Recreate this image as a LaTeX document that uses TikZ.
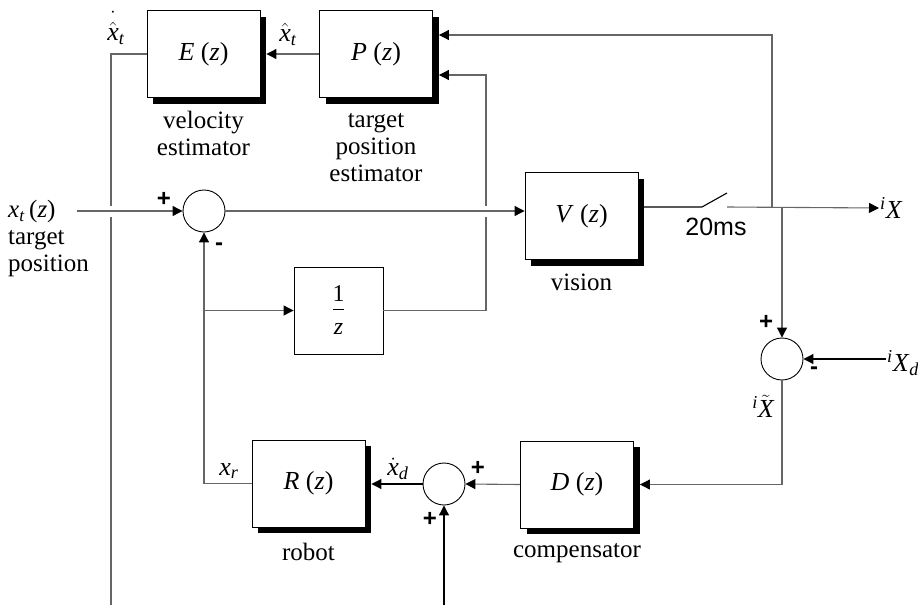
\documentclass[tikz,border=0pt]{standalone}
\usepackage{fontspec}
\setmainfont{Liberation Serif}
\newfontfamily\arialfont{Liberation Sans}
\usetikzlibrary{positioning,arrows.meta,shadows,calc}
\newcommand{\tfn}[1]{\textit{#1}\ (\textit{z})}
\newcommand{\lowsub}[1]{\textsubscript{\textit{#1}}}
\newcommand{\hisup}[1]{\textsuperscript{\textit{#1}}}
\newcommand{\iv}[1]{\mbox{\itshape #1}}
\tikzset{
  blk/.style  ={draw, line width=0.9pt, fill=white, minimum width=113pt,
                minimum height=87pt, inner sep=0pt,
                font=\fontsize{26}{28}\selectfont,
                drop shadow={shadow xshift=6pt, shadow yshift=-6pt,
                             fill=black, opacity=1}},
  blkn/.style ={draw, line width=0.9pt, fill=white, minimum width=89pt,
                minimum height=87pt, inner sep=0pt, align=center,
                font=\fontsize{24}{26}\selectfont},
  sum/.style  ={draw, circle, line width=0.9pt, minimum size=42pt,
                inner sep=0pt},
  ln/.style   ={draw=black!60, line width=1.1pt},
  ar/.style   ={ln, -{Triangle[length=10pt, width=10pt, color=black]}},
  hop/.style  ={preaction={draw=white, line width=11pt, -,
                           shorten <=6pt, shorten >=6pt}},
  capt/.style ={font=\fontsize{25}{27}\selectfont, align=center,
                inner sep=2pt},
  lbl/.style  ={font=\fontsize{26}{28}\selectfont, inner sep=1pt},
  sgn/.style  ={font=\arialfont\bfseries\fontsize{24}{24}\selectfont,
                inner sep=0pt}
}
\begin{document}
\begin{tikzpicture}[x=1pt, y=-1pt]
\useasboundingbox (0,0) rectangle (918,605);
% blocks
\node[blk]  (E)    at (203.5,54)   {\tfn{E}};
\node[blk]  (P)    at (376,54)     {\tfn{P}};
\node[blk]  (V)    at (581.5,216)  {\tfn{V}};
\node[blkn] (invz) at (338.5,310.5)
  {1\\[-18pt]\rule{11pt}{0.8pt}\\[-1pt]\textit{z}};
\node[blk]  (R)    at (308.5,483.5) {\tfn{R}};
\node[blk]  (D)    at (577,484.5)  {\tfn{D}};
\node[sum]  (s1)   at (204,211)    {};
\node[sum]  (s2)   at (444,484)    {};
\node[sum]  (s3)   at (782,359)    {};

\node[capt, below=11pt of E]   (capE) {velocity\\estimator};
\node[capt, below=13.5pt of P] (capP) {target\\position\\estimator};
\node[capt, below=12pt of V]   (capV) {vision};
\node[capt, below=13pt of R]   (capR) {robot};
\node[capt, below=12.5pt of D] (capD) {compensator};
\node[capt, align=left, anchor=north west] (xtlbl) at (6,198)
  {\textit{x}\lowsub{t}\,(\textit{z})\\target\\position};

% signal labels
\node[lbl] (xhat)    at (288,34)  {$\hat{\iv{x}}$\lowsub{t}};
\node[lbl] (xhatdot) at (116,28)
  {$\dot{\mbox{\raisebox{0pt}[24pt]{$\hat{\iv{x}}$}}}$\lowsub{t}};
\node[lbl] (xr)      at (229,471) {\textit{x}\lowsub{r}};
\node[lbl] (xddot)   at (398,469) {$\dot{\iv{x}}$\lowsub{d}};
\node[lbl, anchor=west] (iX)  at (879,208) {\hisup{i}\textit{X}};
\node[lbl, anchor=west] (iXd) at (886,363) {\hisup{i}\textit{X}\lowsub{d}};
\node[lbl] (iXt)     at (763,406) {\hisup{i}$\tilde{\iv{X}}$};
\node[font=\arialfont\fontsize{25}{25}\selectfont, inner sep=0pt]
  (ts) at (716,227) {20ms};

\node[sgn] (p1)  at (164,199) {+};
\node[sgn] (m1)  at (219,247) {-};
\node[sgn] (p3)  at (766,322) {+};
\node[sgn] (m3)  at (814,371) {-};
\node[sgn] (p2a) at (478,468) {+};
\node[sgn] (p2b) at (430,519) {+};

% free ends and branch points
\coordinate (xin)  at (77,211);
\coordinate (ebot) at (111,605);
\coordinate (dbot) at (444,605);
\coordinate (pin2) at (486,75);
\coordinate (sw1)  at (702,207);
\coordinate (sw2)  at (727,207);
\coordinate (tap1) at (772,207);
\coordinate (tap2) at (782,207);
\coordinate (top)  at (772,35);

% connectors
\draw[ln] (E.west) -| (ebot);
\draw[ar] (P.west) -- ([xshift=6pt]E.east);
\draw[ar] (invz.east) -| (pin2) -- ([xshift=6pt]P.east |- pin2);
\draw[ar, hop] (xin) -- (s1.west);
\draw[ar, hop] (s1.east) -- (s1 -| V.west);
\draw[ar] (R.west) -| (s1.south);
\draw[ar] (s1.south |- invz) -- (invz.west);
\draw[ln, draw=black] (V.east |- sw1) -- (sw1) -- ++(25,-14);
\draw[ar] (sw2) -- (iX.west);
\draw[ar] (tap1) -- (top) -- ([xshift=6pt]P.east |- top);
\draw[ar] (tap2) -- (s3.north);
\draw[ar, draw=black] (iXd.west |- s3) -- (s3.east);
\draw[ar] (s3.south) |- ([xshift=6pt]D.east);
\draw[ar] (D.west) -- (s2.east);
\draw[ar, draw=black] (s2.west) -- ([xshift=6pt]R.east |- s2);
\draw[ar, draw=black] (dbot) -- (s2.south);
\end{tikzpicture}
\end{document}
